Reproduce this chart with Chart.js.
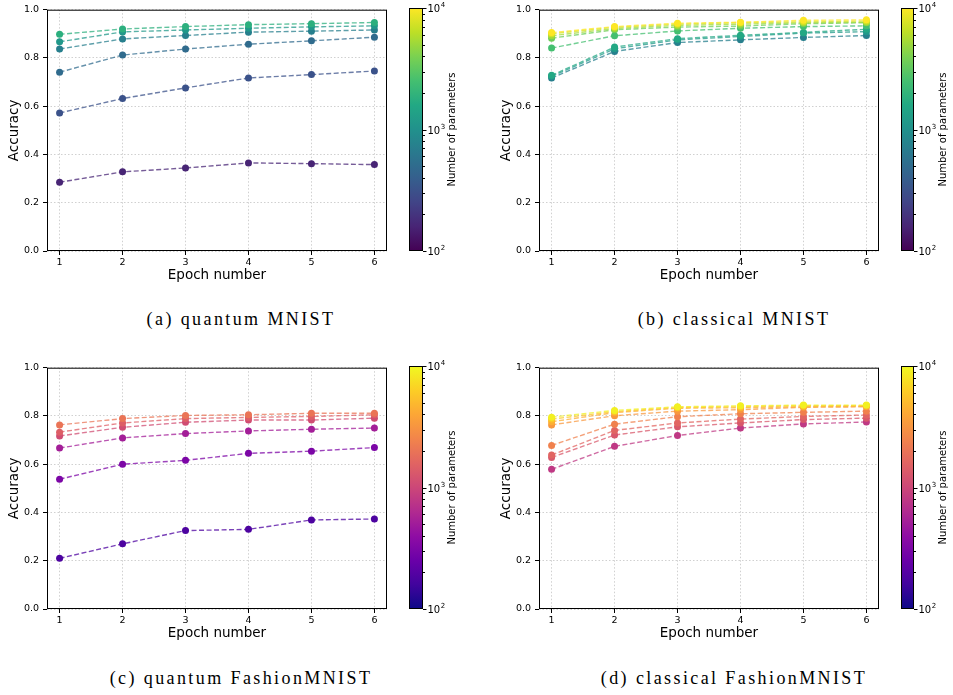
<!DOCTYPE html>
<html>
<head>
<meta charset="utf-8">
<script src="https://cdn.jsdelivr.net/npm/chart.js@4.4.0/dist/chart.umd.min.js"></script>
<style>
  body { margin: 0; background: #fff; width: 953px; height: 695px; position: relative; overflow: hidden; }
  canvas { position: absolute; }
  .caption {
    position: absolute; width: 482px; text-align: center;
    font-family: 'Liberation Serif', serif; font-size: 18px; letter-spacing: 2.4px;
    line-height: 20px; color: #000;
  }
</style>
</head>
<body>
<canvas id="plot-a" width="392" height="290" style="left:0;top:0"></canvas>
<canvas id="cbar-a" width="61" height="290" style="left:400px;top:0"></canvas>
<canvas id="plot-b" width="392" height="290" style="left:492px;top:0"></canvas>
<canvas id="cbar-b" width="61" height="290" style="left:892px;top:0"></canvas>
<canvas id="plot-c" width="392" height="290" style="left:0;top:358px"></canvas>
<canvas id="cbar-c" width="61" height="290" style="left:400px;top:358px"></canvas>
<canvas id="plot-d" width="392" height="290" style="left:492px;top:358px"></canvas>
<canvas id="cbar-d" width="61" height="290" style="left:892px;top:358px"></canvas>

<div class="caption" style="left:0;top:309px">(a) quantum MNIST</div>
<div class="caption" style="left:493px;top:309px">(b) classical MNIST</div>
<div class="caption" style="left:0;top:668px">(c) quantum FashionMNIST</div>
<div class="caption" style="left:493px;top:668px">(d) classical FashionMNIST</div>

<script>
// Shared axes
const EPOCHS = [1, 2, 3, 4, 5, 6];
const ACC_TICKS = [0, 0.2, 0.4, 0.6, 0.8, 1.0];
const PARAM_MAJOR = [100, 1000, 10000];
const PARAM_MINOR = [200, 300, 400, 500, 600, 700, 800, 900, 2000, 3000, 4000, 5000, 6000, 7000, 8000, 9000];

// (a) quantum MNIST: parameter count per run, accuracy per epoch
const QUANTUM_MNIST_PARAMS = [1820, 1150, 720, 500, 320, 160];
const QUANTUM_MNIST_ACC = [
  [0.898, 0.920, 0.930, 0.938, 0.942, 0.947],
  [0.867, 0.908, 0.916, 0.923, 0.929, 0.933],
  [0.837, 0.879, 0.893, 0.907, 0.911, 0.916],
  [0.741, 0.812, 0.837, 0.857, 0.871, 0.886],
  [0.572, 0.632, 0.676, 0.717, 0.731, 0.746],
  [0.285, 0.328, 0.344, 0.365, 0.362, 0.358]
];

// (b) classical MNIST
const CLASSICAL_MNIST_PARAMS = [10000, 7200, 5200, 3600, 2500, 1600, 1150, 720];
const CLASSICAL_MNIST_ACC = [
  [0.905, 0.930, 0.944, 0.948, 0.956, 0.958],
  [0.900, 0.927, 0.940, 0.946, 0.950, 0.953],
  [0.892, 0.922, 0.935, 0.940, 0.946, 0.948],
  [0.882, 0.917, 0.928, 0.932, 0.942, 0.946],
  [0.841, 0.892, 0.912, 0.923, 0.930, 0.933],
  [0.728, 0.845, 0.880, 0.894, 0.906, 0.919],
  [0.724, 0.838, 0.875, 0.889, 0.903, 0.909],
  [0.717, 0.827, 0.864, 0.875, 0.885, 0.893]
];

// (c) quantum FashionMNIST
const QUANTUM_FASHION_PARAMS = [2000, 1450, 1100, 525, 316, 182];
const QUANTUM_FASHION_ACC = [
  [0.763, 0.789, 0.802, 0.805, 0.811, 0.811],
  [0.733, 0.771, 0.789, 0.794, 0.798, 0.805],
  [0.717, 0.753, 0.774, 0.783, 0.783, 0.791],
  [0.667, 0.709, 0.727, 0.738, 0.745, 0.750],
  [0.538, 0.600, 0.616, 0.645, 0.654, 0.669],
  [0.210, 0.270, 0.325, 0.330, 0.369, 0.373]
];

// (d) classical FashionMNIST
const CLASSICAL_FASHION_PARAMS = [9100, 5750, 4350, 3300, 2400, 1600, 1300, 800];
const CLASSICAL_FASHION_ACC = [
  [0.795, 0.823, 0.838, 0.842, 0.845, 0.845],
  [0.787, 0.818, 0.835, 0.838, 0.842, 0.843],
  [0.776, 0.814, 0.832, 0.834, 0.838, 0.840],
  [0.763, 0.801, 0.820, 0.826, 0.836, 0.838],
  [0.678, 0.766, 0.797, 0.809, 0.815, 0.820],
  [0.638, 0.740, 0.771, 0.787, 0.798, 0.804],
  [0.628, 0.721, 0.755, 0.771, 0.785, 0.791],
  [0.579, 0.674, 0.719, 0.750, 0.767, 0.775]
];

// Colormaps (matplotlib samples at 0, 0.1, ... 1)
const VIRIDIS = ['#440154', '#482475', '#414487', '#355f8d', '#2a788e', '#21918c',
                 '#22a884', '#44bf70', '#7ad151', '#bddf26', '#fde725'];
const PLASMA = ['#0d0887', '#41049d', '#6a00a8', '#8f0da4', '#b12a90', '#cc4778',
                '#e16462', '#f2844b', '#fca636', '#fcce25', '#f0f921'];

const TICK_FONT = { family: 'DejaVu Sans', size: 9.5 };
const LABEL_FONT = { family: 'DejaVu Sans', size: 13.5 };

Chart.defaults.color = '#000';
Chart.defaults.font.family = 'DejaVu Sans';

function hexToRgb(hex) {
  const n = parseInt(hex.slice(1), 16);
  return [(n >> 16) & 255, (n >> 8) & 255, n & 255];
}

function colorAt(stops, t) {
  t = Math.min(1, Math.max(0, t));
  const n = stops.length - 1;
  const i = Math.min(n - 1, Math.floor(t * n));
  const f = t * n - i;
  const a = hexToRgb(stops[i]);
  const b = hexToRgb(stops[i + 1]);
  return a.map((v, k) => Math.round(v + (b[k] - v) * f));
}

// log-normalised position of a parameter count on the 1e2..1e4 colorbar
function paramPos(p) {
  return (Math.log10(p) - 2) / 2;
}

// Draw the full matplotlib style box around the plot area
const framePlugin = {
  id: 'frame',
  afterDraw(chart) {
    const { ctx, chartArea: a } = chart;
    ctx.save();
    ctx.strokeStyle = '#000';
    ctx.lineWidth = 1;
    ctx.strokeRect(a.left + 0.5, a.top + 0.5, a.right - a.left - 1, a.bottom - a.top - 1);
    ctx.restore();
  }
};

function makePlot(id, params, acc, stops) {
  const datasets = acc.map((row, i) => {
    const rgb = colorAt(stops, paramPos(params[i]));
    return {
      data: row.map((y, j) => ({ x: EPOCHS[j], y })),
      borderColor: `rgba(${rgb.join(',')},0.75)`,
      backgroundColor: `rgb(${rgb.join(',')})`,
      borderWidth: 1.4,
      borderDash: [5, 2.5],
      pointRadius: 3.5,
      pointBorderWidth: 0,
      showLine: true,
      tension: 0
    };
  });

  new Chart(document.getElementById(id), {
    type: 'scatter',
    data: { datasets },
    options: {
      responsive: false,
      animation: false,
      events: [],
      layout: { padding: { top: 8, right: 5, left: 0, bottom: 0 } },
      plugins: { legend: { display: false }, tooltip: { enabled: false } },
      scales: {
        x: {
          type: 'linear',
          min: 0.8,
          max: 6.2,
          afterBuildTicks: s => { s.ticks = EPOCHS.map(v => ({ value: v })); },
          afterFit: s => { s.height = 39; },
          border: { display: false, dash: [1.5, 2] },
          grid: { color: '#c4c4c4', lineWidth: 0.8, tickColor: '#000', tickLength: 4, tickWidth: 1 },
          ticks: { font: TICK_FONT, padding: 2, maxRotation: 0, callback: v => String(v) },
          title: { display: true, text: 'Epoch number', font: LABEL_FONT, padding: { top: 0, bottom: 6 } }
        },
        y: {
          min: 0,
          max: 1,
          afterBuildTicks: s => { s.ticks = ACC_TICKS.map(v => ({ value: v })); },
          afterFit: s => { s.width = 47; },
          border: { display: false, dash: [1.5, 2] },
          grid: { color: '#c4c4c4', lineWidth: 0.8, tickColor: '#000', tickLength: 4, tickWidth: 1 },
          ticks: { font: TICK_FONT, padding: 4, callback: v => v.toFixed(1) },
          title: { display: true, text: 'Accuracy', font: LABEL_FONT, padding: { top: 6, bottom: 0 } }
        }
      }
    },
    plugins: [framePlugin]
  });
}

// Colorbar: gradient strip, log ticks with 10^n labels and a rotated label
function makeColorbar(id, stops, barWidth) {
  const barPlugin = {
    id: 'colorbar',
    beforeDatasetsDraw(chart) {
      const { ctx, chartArea: a } = chart;
      const grad = ctx.createLinearGradient(0, a.bottom, 0, a.top);
      stops.forEach((c, i) => grad.addColorStop(i / (stops.length - 1), c));
      ctx.save();
      ctx.fillStyle = grad;
      ctx.fillRect(a.left, a.top, a.right - a.left, a.bottom - a.top);
      ctx.restore();
    },
    afterDraw(chart) {
      const { ctx, chartArea: a } = chart;
      const y = chart.scales.y;
      ctx.save();
      ctx.strokeStyle = '#000';
      ctx.fillStyle = '#000';
      ctx.lineWidth = 1;
      PARAM_MINOR.forEach(v => {
        const py = Math.round(y.getPixelForValue(v)) + 0.5;
        ctx.beginPath();
        ctx.moveTo(a.right, py);
        ctx.lineTo(a.right + 2, py);
        ctx.stroke();
      });
      PARAM_MAJOR.forEach(v => {
        const py = Math.round(y.getPixelForValue(v)) + 0.5;
        ctx.beginPath();
        ctx.moveTo(a.right, py);
        ctx.lineTo(a.right + 3.5, py);
        ctx.stroke();
        // "10" with a raised exponent, as matplotlib mathtext
        ctx.textBaseline = 'middle';
        ctx.textAlign = 'left';
        ctx.font = '10px "DejaVu Sans"';
        ctx.fillText('10', a.right + 4.5, py + 1);
        const w = ctx.measureText('10').width;
        ctx.font = '7px "DejaVu Sans"';
        ctx.fillText(String(Math.round(Math.log10(v))), a.right + 4.5 + w + 0.5, py - 3);
      });
      ctx.strokeRect(a.left + 0.5, a.top + 0.5, a.right - a.left - 1, a.bottom - a.top - 1);
      // colorbar label, reading bottom to top like matplotlib
      ctx.translate(a.right + 29, (a.top + a.bottom) / 2);
      ctx.rotate(-Math.PI / 2);
      ctx.font = '10px "DejaVu Sans"';
      ctx.textAlign = 'center';
      ctx.textBaseline = 'middle';
      ctx.fillText('Number of parameters', 0, 0);
      ctx.restore();
    }
  };

  new Chart(document.getElementById(id), {
    type: 'scatter',
    data: { datasets: [] },
    options: {
      responsive: false,
      animation: false,
      events: [],
      layout: { padding: { top: 8, bottom: 39, left: 9, right: 0 } },
      plugins: { legend: { display: false }, tooltip: { enabled: false } },
      scales: {
        x: { display: false, min: 0, max: 1 },
        y: {
          type: 'logarithmic',
          position: 'right',
          min: 100,
          max: 10000,
          afterBuildTicks: s => { s.ticks = PARAM_MAJOR.map(v => ({ value: v })); },
          afterFit: s => { s.width = 61 - 9 - barWidth; },
          border: { display: false },
          grid: { display: false, drawTicks: false },
          ticks: { display: false }
        }
      }
    },
    plugins: [barPlugin]
  });
}

makePlot('plot-a', QUANTUM_MNIST_PARAMS, QUANTUM_MNIST_ACC, VIRIDIS);
makePlot('plot-b', CLASSICAL_MNIST_PARAMS, CLASSICAL_MNIST_ACC, VIRIDIS);
makePlot('plot-c', QUANTUM_FASHION_PARAMS, QUANTUM_FASHION_ACC, PLASMA);
makePlot('plot-d', CLASSICAL_FASHION_PARAMS, CLASSICAL_FASHION_ACC, PLASMA);

makeColorbar('cbar-a', VIRIDIS, 14);
makeColorbar('cbar-b', VIRIDIS, 13);
makeColorbar('cbar-c', PLASMA, 14);
makeColorbar('cbar-d', PLASMA, 13);
</script>
</body>
</html>
